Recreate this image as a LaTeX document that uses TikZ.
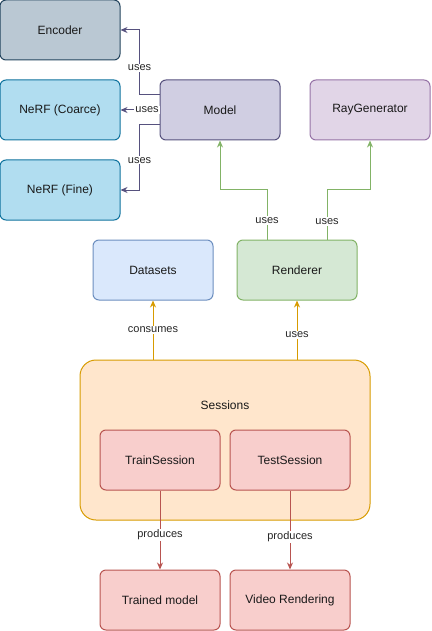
\documentclass[tikz,border=0pt]{standalone}
\usepackage{fontspec}
\setmainfont{Liberation Sans}
\usetikzlibrary{arrows.meta,positioning}
\definecolor{encfill}{HTML}{BAC8D3}\definecolor{encline}{HTML}{23445D}
\definecolor{nrffill}{HTML}{B1DDF0}\definecolor{nrfline}{HTML}{10739E}
\definecolor{modfill}{HTML}{D0CEE2}\definecolor{modline}{HTML}{56517E}
\definecolor{rayfill}{HTML}{E1D5E7}\definecolor{rayline}{HTML}{9673A6}
\definecolor{datfill}{HTML}{DAE8FC}\definecolor{datline}{HTML}{6C8EBF}
\definecolor{renfill}{HTML}{D5E8D4}\definecolor{renline}{HTML}{82B366}
\definecolor{sesfill}{HTML}{FFE6CC}\definecolor{sesline}{HTML}{D79B00}
\definecolor{redfill}{HTML}{F8CECC}\definecolor{redline}{HTML}{B85450}
\begin{document}
\begin{tikzpicture}[x=1pt,y=-1pt,
  box/.style={draw,rounded corners=6pt,line width=1pt,minimum width=120pt,minimum height=60pt,
    font=\fontsize{12pt}{14pt}\selectfont,text=black!90},
  lbl/.style={fill=white,inner sep=1pt,font=\fontsize{11pt}{13pt}\selectfont,text=black!85},
  arr/.style={-{Stealth[length=7pt,width=6pt]},line width=1pt}]
\useasboundingbox (0,0) rectangle (431,631);
\node (Enc) [box,fill=encfill,draw=encline] at (60,30) {Encoder};
\node (NC) [box,fill=nrffill,draw=nrfline] at (60,110) {NeRF (Coarce)};
\node (NF) [box,fill=nrffill,draw=nrfline] at (60,190) {NeRF (Fine)};
\node (Mod) [box,fill=modfill,draw=modline] at (220,110) {Model};
\node (Ray) [box,fill=rayfill,draw=rayline] at (370,110) {RayGenerator};
\node (Dat) [box,fill=datfill,draw=datline] at (153,270) {Datasets};
\node (Ren) [box,fill=renfill,draw=renline] at (297,270) {Renderer};
\node (Ses) [box,fill=sesfill,draw=sesline,rounded corners=16pt,minimum width=290pt,minimum height=160pt] at (225,440) {};
\node (SesT) [font=\fontsize{12pt}{14pt}\selectfont,text=black!90] at ([yshift=-46pt]Ses.north) {Sessions};
\node (TrS) [box,fill=redfill,draw=redline] at (160,460) {TrainSession};
\node (TeS) [box,fill=redfill,draw=redline] at (290,460) {TestSession};
\node (TrM) [box,fill=redfill,draw=redline] at (160,600) {Trained model};
\node (Vid) [box,fill=redfill,draw=redline] at (290,600) {Video Rendering};

\draw[arr,modline] ([yshift=15pt]Mod.west) -- ++(-20,0) |- node[lbl,pos=0.21] {uses} (Enc.east);
\draw[arr,modline] (Mod.west) -- node[lbl,pos=0.32] {uses} (NC.east);
\draw[arr,modline] ([yshift=-15pt]Mod.west) -- ++(-20,0) |- node[lbl,pos=0.27] {uses} (NF.east);
\draw[arr,renline] ([xshift=-30pt]Ren.north) -- node[lbl,pos=0.38] {uses} ++(0,-50) -| (Mod.south);
\draw[arr,renline] ([xshift=30pt]Ren.north) -- node[lbl,pos=0.36] {uses} ++(0,-50) -| (Ray.south);
\draw[arr,sesline] (Ses.north -| Dat.south) -- node[lbl] {consumes} (Dat.south);
\draw[arr,sesline] (Ses.north -| Ren.south) -- node[lbl,pos=0.42] {uses} (Ren.south);
\draw[arr,redline] (TrS.south) -- node[lbl,pos=0.56] {produces} (TrM.north);
\draw[arr,redline] (TeS.south) -- node[lbl,pos=0.59] {produces} (Vid.north);
\end{tikzpicture}
\end{document}
